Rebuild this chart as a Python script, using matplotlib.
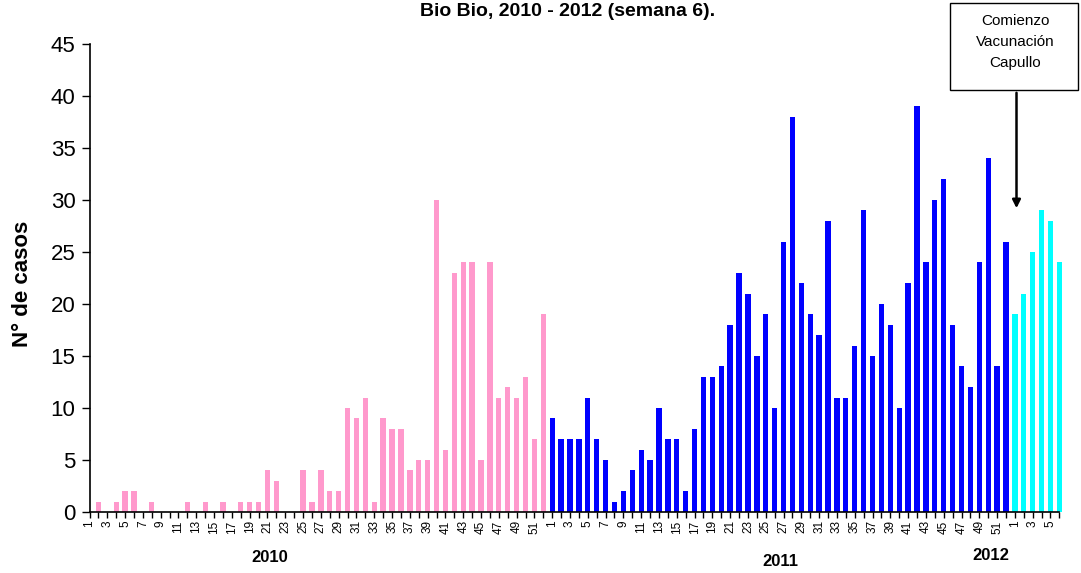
import numpy as np
import matplotlib
matplotlib.use('Agg')
import matplotlib.pyplot as plt

plt.rcParams['font.family'] = ['Liberation Sans', 'DejaVu Sans']

# casos por semana epidemiologica
casos_2010 = [0, 1, 0, 1, 2, 2, 0, 1, 0, 0,
              0, 1, 0, 1, 0, 1, 0, 1, 1, 1,
              4, 3, 0, 0, 4, 1, 4, 2, 2, 10,
              9, 11, 1, 9, 8, 8, 4, 5, 5, 30,
              6, 23, 24, 24, 5, 24, 11, 12, 11, 13,
              7, 19]
casos_2011 = [9, 7, 7, 7, 11, 7, 5, 1, 2, 4,
              6, 5, 10, 7, 7, 2, 8, 13, 13, 14,
              18, 23, 21, 15, 19, 10, 26, 38, 22, 19,
              17, 28, 11, 11, 16, 29, 15, 20, 18, 10,
              22, 39, 24, 30, 32, 18, 14, 12, 24, 34,
              14, 26]
casos_2012 = [19, 21, 25, 29, 28, 24]

semanas = list(range(1, 53)) + list(range(1, 53)) + list(range(1, 7))
colores = ['#FF99CC', '#0000FF', '#00FFFF']

fig = plt.figure(figsize=(10.81, 5.73), dpi=100)
ax = fig.add_axes([0.0828, 0.1065, 0.8972, 0.8167])

x0 = 0
for vals, col in zip([casos_2010, casos_2011, casos_2012], colores):
    xs = np.arange(x0, x0 + len(vals))
    ax.bar(xs, vals, width=0.6, color=col, clip_on=False, zorder=2)
    x0 += len(vals)

n = len(semanas)
ax.set_xlim(0, n - 1)
ax.set_ylim(0, 45)
ax.set_yticks(range(0, 46, 5))
ax.tick_params(axis='y', labelsize=16, direction='out', length=6, width=1, pad=4)

ax.set_xticks(range(n))
ax.set_xticklabels([str(s) if s % 2 == 1 else '' for s in semanas], rotation=90, fontsize=8.5)
ax.tick_params(axis='x', direction='out', length=4, width=1, pad=2)

ax.spines['top'].set_visible(False)
ax.spines['right'].set_visible(False)
ax.spines['left'].set_linewidth(1.2)
ax.spines['bottom'].set_linewidth(1.2)

ax.set_ylabel('N° de casos', fontsize=16, fontweight='bold')
ax.yaxis.set_label_coords(-0.058, 0.487)

fig.text(568 / 1081, 1 - 11 / 573, 'Bio Bio, 2010 - 2012 (semana 6).', ha='center', va='center',
         fontsize=14, fontweight='bold')

# etiquetas de año
fig.text(270 / 1081, 1 - 557 / 573, '2010', ha='center', va='center', fontsize=12, fontweight='bold')
fig.text(780 / 1081, 1 - 562 / 573, '2011', ha='center', va='center', fontsize=12, fontweight='bold')
fig.text(991 / 1081, 1 - 555 / 573, '2012', ha='center', va='center', fontsize=12, fontweight='bold')

# recuadro con flecha
box_ax = fig.add_axes([0, 0, 1, 1], facecolor='none')
box_ax.set_xlim(0, 1081)
box_ax.set_ylim(573, 0)
box_ax.axis('off')
box_ax.add_patch(plt.Rectangle((950, 3), 128, 87, fill=False, edgecolor='black', linewidth=1))
box_ax.text(1015, 42, 'Comienzo\nVacunación\nCapullo', ha='center', va='center',
            fontsize=11, linespacing=1.6)
box_ax.annotate('', xy=(1016.5, 211), xytext=(1016.5, 90),
                arrowprops=dict(arrowstyle='-|>', color='black', lw=1.8, mutation_scale=12))

fig.savefig('out.png', dpi=100)
